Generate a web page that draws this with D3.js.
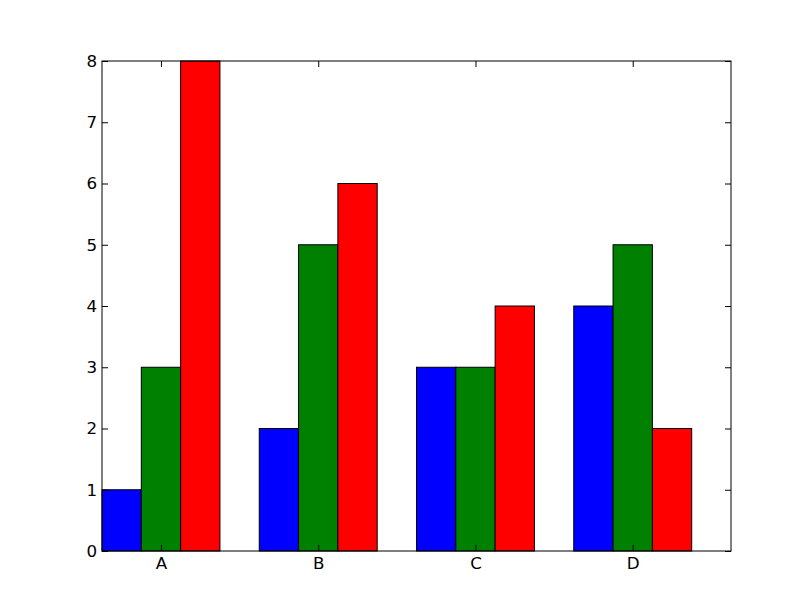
<!DOCTYPE html>
<meta charset="utf-8">
<style>
  body { margin: 0; background: #fff; }
  text { font-family: "DejaVu Sans", sans-serif; font-size: 16.7px; fill: #000; }
</style>
<body>
<script src="https://cdn.jsdelivr.net/npm/d3@7"></script>
<script>
  var categories = ["A", "B", "C", "D"];
  var seriesColors = ["#0000ff", "#008000", "#ff0000"];
  var s1 = [1, 2, 3, 4];
  var s2 = [3, 5, 3, 5];
  var s3 = [8, 6, 4, 2];
  var yTicks = [0, 1, 2, 3, 4, 5, 6, 7, 8];

  var width = 812, height = 612;
  // plot box edges (window.top is reserved, so not "top")
  var axLeft = 102, axRight = 731, axTop = 61, axBottom = 551;
  var barW = 0.25;

  var svg = d3.select("body").append("svg")
    .attr("width", width)
    .attr("height", height)

  var x = d3.scaleLinear().domain([-0.375, 3.625]).range([axLeft, axRight]);
  var y = d3.scaleLinear().domain([0, 8]).range([axBottom, axTop]);

  var series = [s1, s2, s3];

  /* bars, one group per series */
  series.forEach(function(vals, k) {
    svg.append("g").selectAll("rect")
      .data(vals)
      .enter().append("rect")
      .attr("x", function(d, i) { return x(i + (k - 1.5) * barW); })
      .attr("width", function() { return x(barW) - x(0); })
      .attr("y", function(d) { return y(d); })
      .attr("height", function(d) { return y(0) - y(d); })
      .attr("fill", seriesColors[k])
      .attr("stroke", "#000")
      .attr("stroke-width", 1);
  });

  /* axes, matplotlib classic: ticks inside on all four sides */
  var tl = 6;
  svg.append("g").attr("transform", "translate(0," + axBottom + ")")
    .call(d3.axisBottom(x).tickValues([0, 1, 2, 3]).tickSizeInner(-tl).tickSizeOuter(0).tickPadding(6)
      .tickFormat(function(d) { return categories[d]; }));
  svg.append("g").attr("transform", "translate(0," + axTop + ")")
    .call(d3.axisTop(x).tickValues([0, 1, 2, 3]).tickSizeInner(-tl).tickSizeOuter(0).tickFormat(""));
  svg.append("g").attr("transform", "translate(" + axLeft + ",0)")
    .call(d3.axisLeft(y).tickValues(yTicks).tickSizeInner(-tl).tickSizeOuter(0).tickPadding(5)
      .tickFormat(d3.format("d")));
  svg.append("g").attr("transform", "translate(" + axRight + ",0)")
    .call(d3.axisRight(y).tickValues(yTicks).tickSizeInner(-tl).tickSizeOuter(0).tickFormat(""));

  svg.selectAll(".domain").remove();
  svg.selectAll(".tick text").attr("font-family", "DejaVu Sans").attr("font-size", "16.7px").attr("fill", "#000");
  svg.selectAll(".tick line").attr("stroke", "#000");

  svg.append("rect")
    .attr("x", axLeft).attr("y", axTop)
    .attr("width", axRight - axLeft).attr("height", axBottom - axTop)
    .attr("fill", "none").attr("stroke", "#000").attr("stroke-width", 1);
</script>
</body>
